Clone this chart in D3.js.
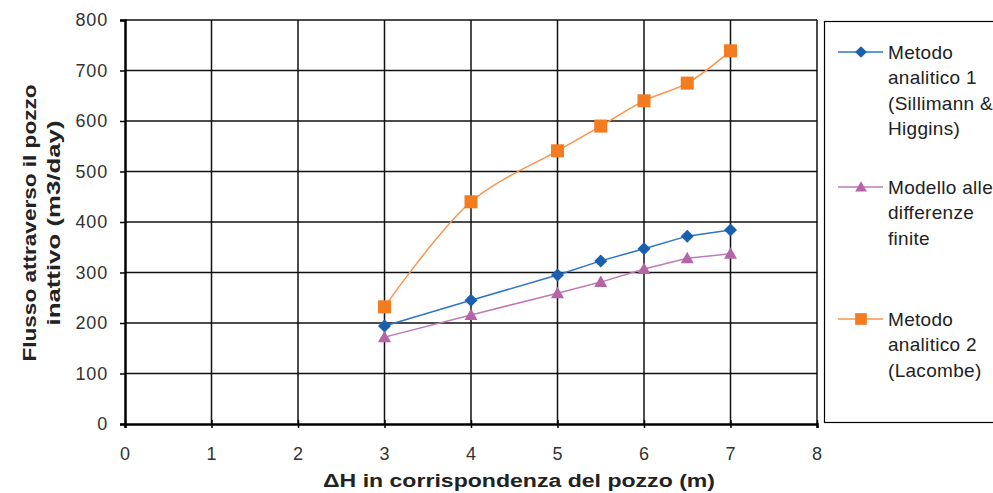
<!DOCTYPE html>
<html><head><meta charset="utf-8">
<script src="https://cdn.jsdelivr.net/npm/d3@7"></script>
<style>body{margin:0;background:#fff}svg{display:block}</style>
</head><body>
<script>
const xValues = [3, 4, 5, 5.5, 6, 6.5, 7];
const seriesNames = [["Metodo", "analitico 1", "(Sillimann &", "Higgins)"], ["Modello alle", "differenze", "finite"], ["Metodo", "analitico 2", "(Lacombe)"]];
const metodo1 = [194, 245, 295, 323, 347, 372, 384];
const modello = [172, 216, 259, 281, 307, 328, 337];
const metodo2 = [232, 440, 541, 590, 640, 675, 739];
const xTicks = [0, 1, 2, 3, 4, 5, 6, 7, 8];
const yTicks = [0, 100, 200, 300, 400, 500, 600, 700, 800];
const xTitle = "ΔH in corrispondenza del pozzo (m)";
const yTitle = ["Flusso attraverso il pozzo", "inattivo (m3/day)"];

const W = 993, H = 493;
const m = {l: 125, r: 817, t: 20, b: 424};
const svg = d3.select("body").append("svg").attr("width", W).attr("height", H);
const x = d3.scaleLinear().domain([0, 8]).range([m.l, m.r]);
const y = d3.scaleLinear().domain([0, 800]).range([m.b, m.t]);
const font = "'Liberation Sans', Arial, sans-serif";

// grid
const g = svg.append("g");
g.selectAll("line.h").data(yTicks.slice(1)).join("line")
  .attr("x1", m.l).attr("x2", m.r).attr("y1", d => y(d)).attr("y2", d => y(d))
  .attr("stroke", "#111").attr("stroke-width", 1.5);
g.selectAll("line.v").data(xTicks.slice(1)).join("line")
  .attr("y1", m.t).attr("y2", m.b).attr("x1", d => x(d)).attr("x2", d => x(d))
  .attr("stroke", "#111").attr("stroke-width", 1.5);

// axes
const ax = svg.append("g").attr("transform", `translate(0,${m.b})`)
  .call(d3.axisBottom(x).tickValues(xTicks).tickSize(4).tickPadding(19).tickFormat(d3.format("d")));
const ay = svg.append("g").attr("transform", `translate(${m.l},0)`)
  .call(d3.axisLeft(y).tickValues(yTicks).tickSize(5).tickPadding(12).tickFormat(d3.format("d")));
[ax, ay].forEach(a => {
  a.select(".domain").attr("stroke", "#000").attr("stroke-width", 2.5);
  a.selectAll(".tick line").attr("stroke", "#000").attr("stroke-width", 1.5);
  a.selectAll("text").attr("font-family", font).attr("font-size", 18).attr("fill", "#333")
    .attr("letter-spacing", 0.8);
});
ax.selectAll(".tick line").attr("y1", -4);

// series
const series = [
  {vals: metodo1, color: "#1B5FB0", line: "#2E74C8", shape: "diamond", curve: d3.curveLinear},
  {vals: modello, color: "#B565A7", line: "#C07AB4", shape: "triangle", curve: d3.curveLinear},
  {vals: metodo2, color: "#F47B20", line: "#F7944A", shape: "square", curve: d3.curveCatmullRom}
];
function marker(sel, shape, color) {
  if (shape === "diamond") sel.append("path").attr("d", "M0,-6.5L6.5,0L0,6.5L-6.5,0Z").attr("fill", color);
  else if (shape === "triangle") sel.append("path").attr("d", "M0,-6.5L6.5,5L-6.5,5Z").attr("fill", color);
  else sel.append("rect").attr("x", -6.5).attr("y", -6.5).attr("width", 13).attr("height", 13).attr("fill", color);
}
series.forEach(s => {
  const pts = xValues.map((xv, i) => [xv, s.vals[i]]);
  svg.append("path").datum(pts)
    .attr("d", d3.line().x(d => x(d[0])).y(d => y(d[1])).curve(s.curve))
    .attr("fill", "none").attr("stroke", s.line).attr("stroke-width", 1.5);
  pts.forEach(p => {
    const gg = svg.append("g").attr("transform", `translate(${x(p[0])},${y(p[1])})`);
    marker(gg, s.shape, s.color);
  });
});

// axis titles
svg.append("text").attr("x", 519).attr("y", 487).attr("text-anchor", "middle")
  .attr("font-family", font).attr("font-weight", "bold").attr("font-size", 17.5).attr("fill", "#222")
  .attr("textLength", 392).attr("lengthAdjust", "spacingAndGlyphs").text(xTitle);
const ytLens = [277, 205];
const ytX = [36, 60];
yTitle.forEach((t, i) => {
  svg.append("text").attr("transform", `translate(${ytX[i]},223) rotate(-90)`)
    .attr("text-anchor", "middle").attr("font-family", font).attr("font-weight", "bold")
    .attr("font-size", 17.5).attr("fill", "#222")
    .attr("textLength", ytLens[i]).attr("lengthAdjust", "spacingAndGlyphs").text(t);
});

// legend
svg.append("rect").attr("x", 824.5).attr("y", 21.5).attr("width", 200).attr("height", 401)
  .attr("fill", "#fff").attr("stroke", "#000").attr("stroke-width", 1.2);
const legY = [52, 187, 319];
series.forEach((s, i) => {
  const lg = svg.append("g").attr("transform", `translate(0,${legY[i]})`);
  lg.append("line").attr("x1", 838).attr("x2", 883).attr("y1", 0).attr("y2", 0).attr("stroke", s.line).attr("stroke-width", 1.5);
  const mk = lg.append("g").attr("transform", "translate(861,0) scale(0.9)");
  marker(mk, s.shape, s.color);
  const t = lg.append("text").attr("x", 888).attr("y", 6.5).attr("font-family", font).attr("font-size", 19)
    .attr("letter-spacing", 0.3).attr("fill", "#222");
  seriesNames[i].forEach((n, j) => t.append("tspan").attr("x", 888).attr("dy", j === 0 ? 0 : 25.5).text(n));
});
</script>
</body></html>
